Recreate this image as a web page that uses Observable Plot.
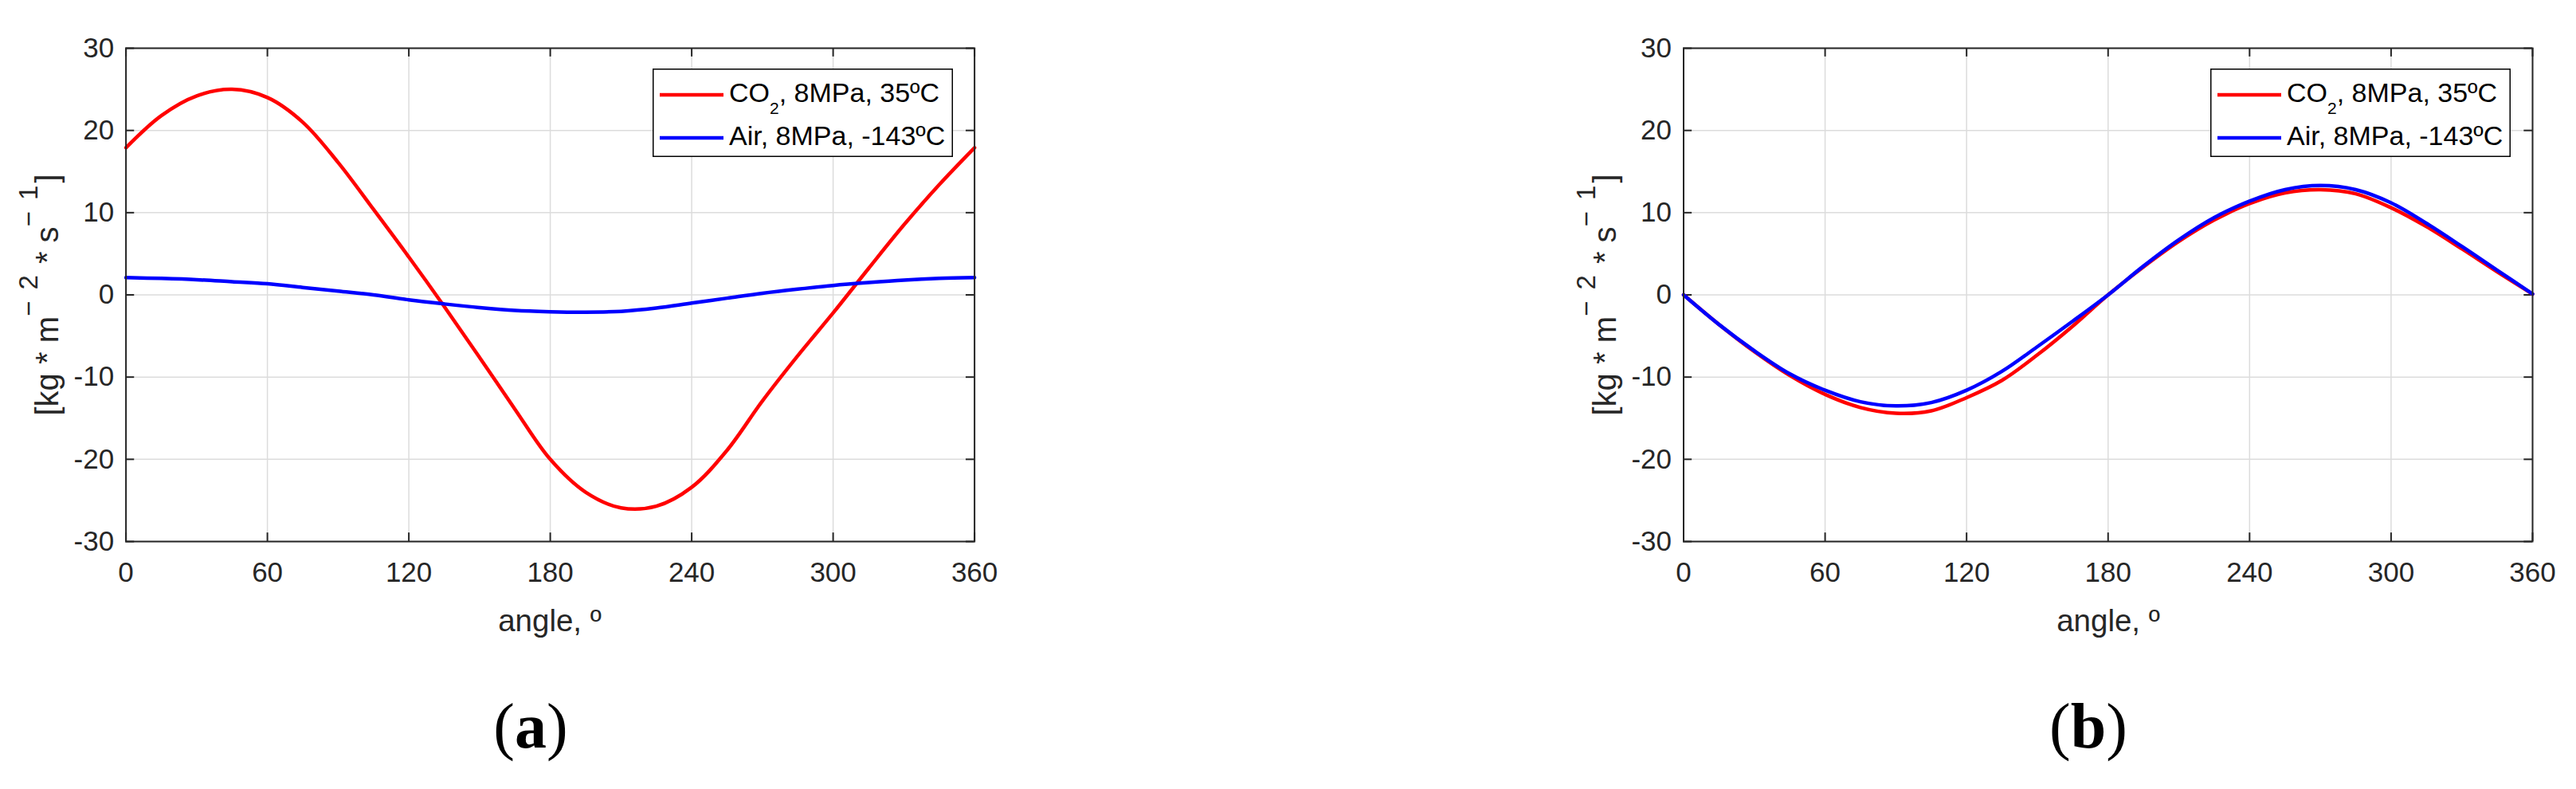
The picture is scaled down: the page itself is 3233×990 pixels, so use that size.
<!DOCTYPE html>
<html>
<head>
<meta charset="utf-8">
<script src="https://cdn.jsdelivr.net/npm/d3@7"></script>
<script src="https://cdn.jsdelivr.net/npm/@observablehq/plot@0.6"></script>
<style>
  html, body { margin: 0; padding: 0; background: #fff; }
  #root { position: relative; width: 3233px; height: 990px; overflow: hidden; background: #fff;
          font-family: "Liberation Sans", Arial, sans-serif; color: #262626; }
  #root svg { position: absolute; top: 0; }
</style>
</head>
<body>
<div id="root"></div>
<script>
// ---------- data ----------
const angles = [0,15,30,45,60,75,90,105,120,135,150,165,180,195,210,225,240,255,270,285,300,315,330,345,360];

// panel (a)
const co2A = [17.9,21.8,24.2,25.0,24.0,21.0,16.1,10.4,4.6,-1.4,-7.6,-13.9,-20.0,-24.0,-25.9,-25.7,-23.4,-18.9,-12.9,-7.4,-2.2,3.2,8.5,13.4,17.9];
const airA = [2.1,2.0,1.85,1.6,1.35,0.9,0.45,0.0,-0.6,-1.1,-1.55,-1.9,-2.05,-2.1,-2.0,-1.6,-1.0,-0.4,0.2,0.7,1.15,1.5,1.8,2.0,2.1];

// panel (b)
const co2B = [0,-3.6,-6.9,-9.8,-12.1,-13.7,-14.4,-14.1,-12.5,-10.4,-7.3,-3.8,0,3.4,6.5,9.1,11.1,12.4,12.8,12.3,10.6,8.3,5.6,2.8,0.1];
const airB = [0,-3.6,-6.8,-9.6,-11.6,-13.0,-13.5,-13.1,-11.6,-9.3,-6.3,-3.2,0,3.5,6.7,9.4,11.4,12.8,13.3,12.8,11.2,8.7,5.9,3.0,0.1];

const xTicks = [0,60,120,180,240,300,360];
const yTicks = [-30,-20,-10,0,10,20,30];
const seriesNames = ["CO2, 8MPa, 35ºC", "Air, 8MPa, -143ºC"];
const seriesColors = ["#ff0000", "#0000ff"];
const xLabel = "angle, º";
const panelLabels = ["a", "b"];

// ---------- drawing ----------
const root = document.getElementById("root");
const PH = 740;       // svg height of each plot
const INK = "#262626";

function makePanel(seriesValues, left, width, mL, mR) {
  const rows = [];
  seriesValues.forEach((vals, i) => vals.forEach((v, j) =>
    rows.push({angle: angles[j], value: v, series: seriesNames[i]})));
  const plot = Plot.plot({
    width, height: PH,
    marginLeft: mL, marginRight: mR, marginTop: 60, marginBottom: PH - 679,
    x: {domain: [0, 360]},
    y: {domain: [-30, 30]},
    color: {domain: seriesNames, range: seriesColors},
    style: {fontFamily: '"Liberation Sans", Arial, sans-serif', fontSize: "35px", color: INK, background: "transparent", overflow: "visible"},
    marks: [
      Plot.gridX(xTicks, {stroke: "#dcdcdc", strokeOpacity: 1, strokeWidth: 1.5}),
      Plot.gridY(yTicks, {stroke: "#dcdcdc", strokeOpacity: 1, strokeWidth: 1.5}),
      Plot.axisX(xTicks, {tickSize: 0, tickPadding: 26, fontSize: 35, fill: INK, label: null, tickFormat: d => String(d)}),
      Plot.axisY(yTicks, {tickSize: 0, tickPadding: 15, fontSize: 35, fill: INK, label: null, tickFormat: d => String(d)}),
      // inward MATLAB-style ticks on all four sides
      Plot.ruleX(xTicks, {y1: -30, y2: -28.95, stroke: INK, strokeWidth: 2}),
      Plot.ruleX(xTicks, {y1: 30, y2: 28.95, stroke: INK, strokeWidth: 2}),
      Plot.ruleY(yTicks, {x1: 0, x2: 3.6, stroke: INK, strokeWidth: 2}),
      Plot.ruleY(yTicks, {x1: 360, x2: 356.4, stroke: INK, strokeWidth: 2}),
      Plot.line(rows, {x: "angle", y: "value", z: "series", stroke: "series", curve: "catmull-rom", strokeWidth: 4.5}),
      Plot.frame({stroke: INK, strokeWidth: 2})
    ]
  });
  plot.style.left = left + "px";
  root.appendChild(plot);
}

makePanel([co2A, airA], 0, 1300, 157.6, 77.4);
makePanel([co2B, airB], 1950, 1283, 162.5, 55);

// ---------- overlay: axis titles, legends, panel captions ----------
const ov = d3.select(root).append("svg")
  .attr("width", 3233).attr("height", 990)
  .style("left", "0px").style("pointer-events", "none");

const panels = [
  {cx: 690,  ylabX: 73,   legX: 819,  capX: 666,  lab: panelLabels[0]},
  {cx: 2646, ylabX: 2028, legX: 2774, capX: 2621, lab: panelLabels[1]}
];

panels.forEach(p => {
  // x title
  ov.append("text").attr("x", p.cx).attr("y", 792)
    .attr("text-anchor", "middle").attr("fill", INK)
    .style("font-family", '"Liberation Sans", Arial, sans-serif').style("font-size", "38.5px")
    .text(xLabel);

  // y title with superscripts
  const yt = ov.append("text")
    .attr("transform", `translate(${p.ylabX},370) rotate(-90)`)
    .attr("text-anchor", "middle").attr("fill", INK)
    .style("font-family", '"Liberation Sans", Arial, sans-serif').style("font-size", "40px");
  yt.append("tspan").text("[kg * m");
  yt.append("tspan").attr("dy", -26).style("font-size", "33px").text("\u2212");
  yt.append("tspan").attr("dx", 5).style("font-size", "33px").text(" 2");
  yt.append("tspan").attr("dy", 26).attr("dx", 3).text(" * s");
  yt.append("tspan").attr("dy", -26).style("font-size", "33px").text("\u2212");
  yt.append("tspan").attr("dx", 5).style("font-size", "33px").text(" 1");
  yt.append("tspan").attr("dy", 26).attr("dx", 3).text("]");

  // legend
  const g = ov.append("g").attr("transform", `translate(${p.legX},86)`);
  g.append("rect").attr("x", 0.75).attr("y", 0.75).attr("width", 375.5).attr("height", 109.5)
    .attr("fill", "#fff").attr("stroke", "#000").attr("stroke-width", 1.5);
  const rowsY = [33, 87];
  seriesNames.forEach((name, i) => {
    g.append("line").attr("x1", 9).attr("x2", 89).attr("y1", rowsY[i]).attr("y2", rowsY[i])
      .attr("stroke", seriesColors[i]).attr("stroke-width", 4.5);
    const t = g.append("text").attr("x", 96).attr("y", rowsY[i] + 8.5).attr("fill", "#000")
      .style("font-family", '"Liberation Sans", Arial, sans-serif').style("font-size", "34px");
    if (name.startsWith("CO2")) {
      t.append("tspan").text("CO");
      t.append("tspan").attr("dy", 15).style("font-size", "21px").text("2");
      t.append("tspan").attr("dy", -15).text(name.slice(3));
    } else {
      t.text(name);
    }
  });

  // panel caption (a)/(b)
  const c = ov.append("text").attr("x", p.capX).attr("y", 938).attr("text-anchor", "middle").attr("fill", "#000")
    .style("font-family", '"Liberation Serif", "Times New Roman", serif').style("font-size", "80px");
  c.append("tspan").text("(");
  c.append("tspan").style("font-weight", "bold").text(p.lab);
  c.append("tspan").text(")");
});
</script>
</body>
</html>
